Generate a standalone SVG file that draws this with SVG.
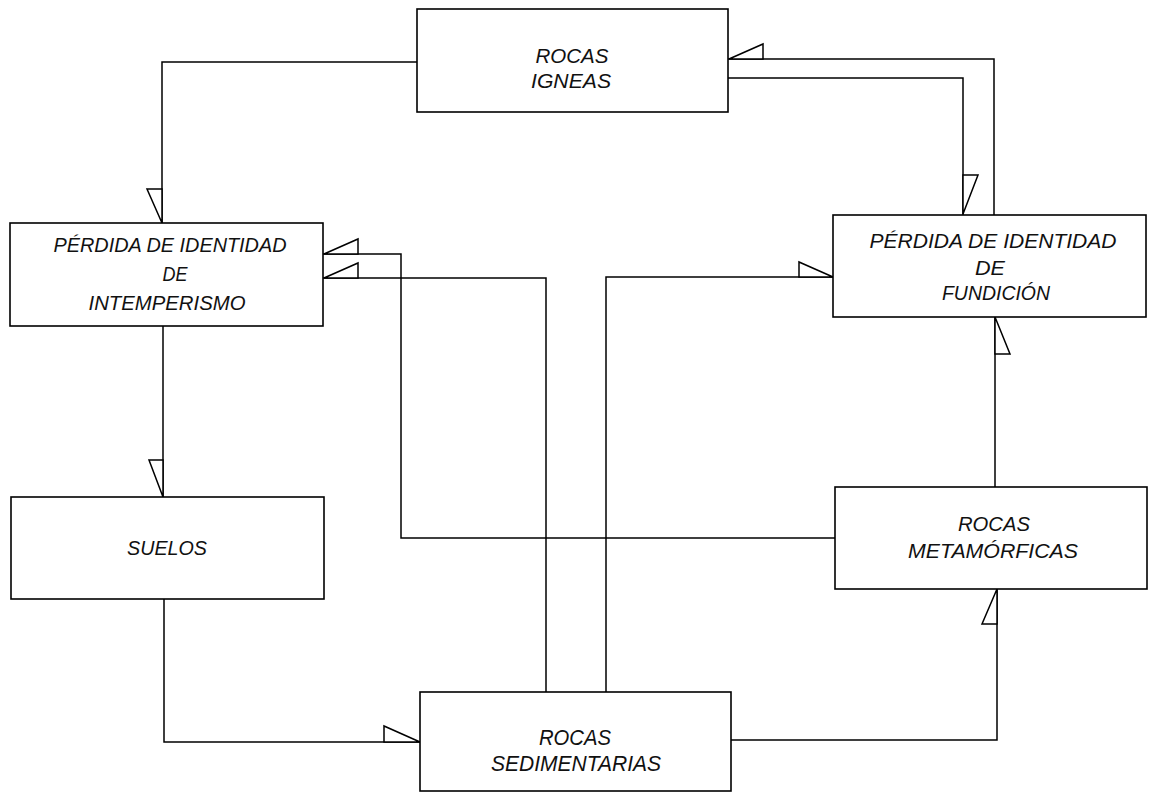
<svg xmlns="http://www.w3.org/2000/svg" width="1149" height="793" viewBox="0 0 1149 793">
<style>
.box{fill:#fff;stroke:#000;stroke-width:1.6}
.ln{fill:none;stroke:#000;stroke-width:1.5}
.ah{fill:#fff;stroke:#000;stroke-width:1.5;stroke-linejoin:miter}
text{font-family:"Liberation Sans",Arial,sans-serif;font-style:italic;font-size:21px;fill:#111;text-anchor:middle}
</style>
<rect width="1149" height="793" fill="#fff"/>
<g id="connectors">
<polyline class="ln" points="417,62 162,62 162,223"/>
<polygon class="ah" points="162,223 147,189 162,189"/>
<polyline class="ln" points="163,326 163,497"/>
<polygon class="ah" points="163,497 149,460 163,460"/>
<polyline class="ln" points="164,599 164,742 420,742"/>
<polygon class="ah" points="420,742 384,726 384,742"/>
<polyline class="ln" points="546,692 546,278 323,278"/>
<polygon class="ah" points="324,278 358,263 358,278"/>
<polyline class="ln" points="835,538 401,538 401,254 323,254"/>
<polygon class="ah" points="324,254 358,239 358,254"/>
<polyline class="ln" points="606,692 606,277 833,277"/>
<polygon class="ah" points="833,277 799,262 799,277"/>
<polyline class="ln" points="994,215 994,59 728,59"/>
<polygon class="ah" points="729,59 763,44 763,59"/>
<polyline class="ln" points="728,78 963,78 963,215"/>
<polygon class="ah" points="963,214 978,175 963,175"/>
<polyline class="ln" points="995,487 995,317"/>
<polygon class="ah" points="995,317 1010,354 995,354"/>
<polyline class="ln" points="731,740 997,740 997,589"/>
<polygon class="ah" points="997,589 982,624 997,624"/>
</g>
<g id="rocas-igneas">
<rect class="box" x="417" y="9" width="311" height="103"/>
<text x="572" y="63" textLength="73" lengthAdjust="spacingAndGlyphs">ROCAS</text>
<text x="571" y="88" textLength="80" lengthAdjust="spacingAndGlyphs">IGNEAS</text>
</g>
<g id="perdida-intemperismo">
<rect class="box" x="10" y="223" width="313" height="103"/>
<text x="170" y="252" textLength="233" lengthAdjust="spacingAndGlyphs">PÉRDIDA DE IDENTIDAD</text>
<text x="175" y="281" textLength="25" lengthAdjust="spacingAndGlyphs">DE</text>
<text x="167" y="310" textLength="157" lengthAdjust="spacingAndGlyphs">INTEMPERISMO</text>
</g>
<g id="perdida-fundicion">
<rect class="box" x="833" y="215" width="313" height="102"/>
<text x="993" y="248" textLength="247" lengthAdjust="spacingAndGlyphs">PÉRDIDA DE IDENTIDAD</text>
<text x="990" y="275" textLength="30" lengthAdjust="spacingAndGlyphs">DE</text>
<text x="996" y="300" textLength="108" lengthAdjust="spacingAndGlyphs">FUNDICIÓN</text>
</g>
<g id="suelos">
<rect class="box" x="11" y="497" width="313" height="102"/>
<text x="167" y="555" textLength="80" lengthAdjust="spacingAndGlyphs">SUELOS</text>
</g>
<g id="rocas-metamorficas">
<rect class="box" x="835" y="487" width="312" height="102"/>
<text x="994" y="531" textLength="72" lengthAdjust="spacingAndGlyphs">ROCAS</text>
<text x="993" y="558" textLength="170" lengthAdjust="spacingAndGlyphs">METAMÓRFICAS</text>
</g>
<g id="rocas-sedimentarias">
<rect class="box" x="420" y="692" width="311" height="99"/>
<text x="575" y="745" textLength="72" lengthAdjust="spacingAndGlyphs" style="font-size:22px">ROCAS</text>
<text x="576" y="771" textLength="170" lengthAdjust="spacingAndGlyphs" style="font-size:22px">SEDIMENTARIAS</text>
</g>
</svg>
